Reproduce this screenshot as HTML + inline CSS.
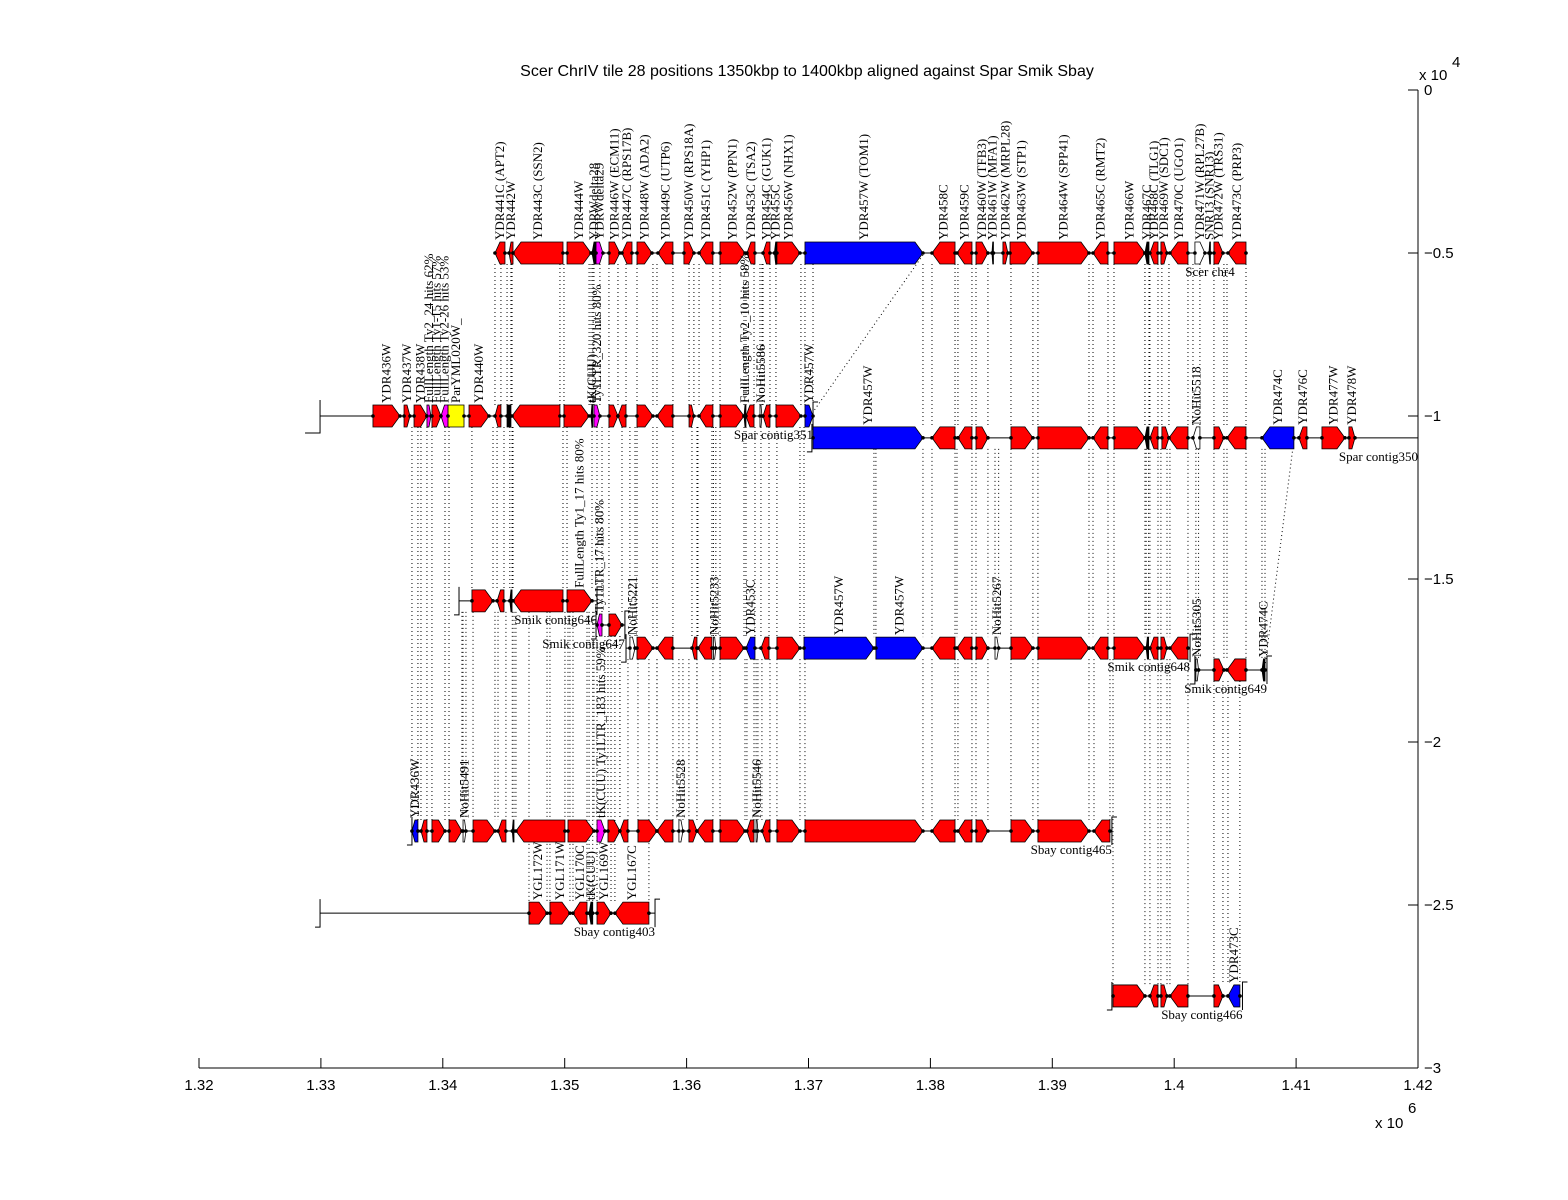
<!DOCTYPE html>
<html><head><meta charset="utf-8">
<style>
html,body{margin:0;padding:0;background:#fff;}
svg{display:block;}
.lab{font-family:"Liberation Serif",serif;font-size:13px;fill:#000;}
.ax{font-family:"Liberation Sans",sans-serif;font-size:15px;fill:#000;}
</style></head>
<body>
<svg id="chart" width="1568" height="1200" viewBox="0 0 1568 1200" xmlns="http://www.w3.org/2000/svg">
<rect width="1568" height="1200" fill="#fff"/>
<text x="807" y="76" text-anchor="middle" style="font-family:'Liberation Sans',sans-serif;font-size:16px">Scer ChrIV tile 28 positions 1350kbp to 1400kbp aligned against Spar Smik Sbay</text>
<g id="dots"></g>
<g id="tracks"></g>
<g id="axes"></g>
</svg>
<script>
// axis ticks
const xTicks = [1.32,1.33,1.34,1.35,1.36,1.37,1.38,1.39,1.40,1.41,1.42];
const xTickLabels = ["1.32","1.33","1.34","1.35","1.36","1.37","1.38","1.39","1.4","1.41","1.42"];
const yTicks = [0,-0.5,-1,-1.5,-2,-2.5,-3];
const yTickLabels = ["0","\u22120.5","\u22121","\u22121.5","\u22122","\u22122.5","\u22123"];

// tracks: names, y level (x1e4), line span (kbp)
const trackNames = ["Scer chr4","Spar contig351","Spar contig350","Smik contig646","Smik contig647","Smik contig648","Smik contig649","Sbay contig465","Sbay contig403","Sbay contig466"];
const trackSpecies = [0,1,1,2,2,2,2,3,3,3];
const trackLevels = [-0.5,-1.0,-1.067,-1.567,-1.641,-1.712,-1.779,-2.273,-2.525,-2.779];
const trackLineStart = [1344.28,1329.93,1370.28,1341.33,1352.57,1355.03,1401.70,1337.47,1329.93,1394.89];
const trackLineEnd = [1405.95,1370.37,1420.0,1352.65,1354.94,1401.30,1407.61,1394.89,1357.41,1405.60];

// genes per track: starts, ends (kbp), strand (W/C/R), colour code, label
const geneStarts = [
 [1344.28,1345.43,1345.76,1350.19,1352.24,1352.57,1353.63,1354.70,1355.93,1357.65,1359.78,1361.02,1362.74,1364.95,1366.27,1367.20,1367.41,1369.71,1380.13,1382.18,1383.74,1385.05,1385.95,1386.53,1388.82,1393.34,1395.06,1397.60,1398.01,1398.91,1399.65,1401.70,1402.85,1403.26,1404.41],
 [1334.27,1336.82,1337.64,1338.70,1339.11,1339.85,1340.43,1342.15,1344.28,1345.27,1345.68,1349.94,1352.16,1352.40,1353.63,1354.37,1355.93,1357.57,1360.20,1361.02,1362.74,1364.71,1364.87,1366.02,1366.27,1367.33,1369.71],
 [1370.37,1380.13,1382.26,1383.74,1386.61,1388.82,1393.34,1395.06,1397.60,1398.01,1398.99,1399.57,1401.54,1403.26,1404.33,1407.20,1410.23,1412.12,1414.33],
 [1342.39,1344.45,1345.50,1345.76,1350.19],
 [1352.65,1353.63],
 [1355.35,1355.93,1357.57,1360.44,1360.93,1362.20,1362.74,1364.87,1366.10,1367.41,1369.63,1375.53,1380.13,1382.18,1383.74,1385.30,1386.61,1388.82,1393.34,1395.06,1397.70,1398.01,1398.91,1399.65],
 [1401.78,1403.26,1404.33,1407.20],
 [1337.47,1338.21,1339.11,1340.51,1341.66,1342.48,1344.53,1345.70,1346.00,1350.27,1352.65,1353.55,1354.53,1356.01,1357.57,1359.37,1360.19,1360.85,1362.74,1364.95,1365.70,1366.18,1367.41,1369.71,1380.13,1382.26,1383.74,1386.61,1388.82,1393.42],
 [1347.07,1348.79,1350.68,1352.00,1352.65,1354.12],
 [1394.98,1398.01,1398.91,1399.65,1403.26,1404.41]
];
const geneEnds = [
 [1345.10,1345.76,1349.86,1352.16,1352.57,1353.14,1354.53,1355.52,1357.16,1358.88,1360.60,1362.16,1364.79,1365.61,1366.84,1367.41,1369.30,1379.39,1382.02,1383.41,1384.72,1385.13,1386.36,1388.41,1393.01,1394.57,1397.60,1397.93,1398.67,1399.41,1401.13,1402.52,1402.93,1404.00,1405.89],
 [1336.49,1337.31,1338.70,1339.03,1339.85,1340.43,1341.74,1343.79,1344.77,1345.59,1349.61,1352.00,1352.30,1352.89,1354.37,1355.03,1357.24,1358.88,1360.60,1362.16,1364.71,1364.87,1365.53,1366.18,1366.84,1369.38,1370.37],
 [1379.39,1382.02,1383.41,1384.72,1388.41,1393.01,1394.57,1397.60,1397.93,1398.67,1399.57,1401.13,1402.11,1404.08,1405.89,1409.82,1410.89,1414.01,1414.83],
 [1344.12,1345.02,1345.68,1349.86,1352.24],
 [1353.06,1354.70],
 [1355.77,1357.24,1358.88,1360.85,1362.08,1362.40,1364.71,1365.61,1366.76,1369.30,1375.37,1379.39,1382.02,1383.41,1384.72,1385.60,1388.41,1393.01,1394.57,1397.60,1397.90,1398.67,1399.41,1401.13],
 [1402.00,1404.08,1405.89,1407.45],
 [1337.96,1338.70,1340.18,1341.57,1341.90,1344.28,1345.18,1345.84,1350.02,1352.40,1353.30,1354.53,1355.19,1357.57,1358.88,1359.70,1360.85,1362.16,1364.79,1365.53,1365.85,1366.84,1369.30,1379.39,1382.02,1383.41,1384.72,1388.41,1393.01,1394.73],
 [1348.55,1350.43,1351.83,1352.30,1353.80,1356.91],
 [1397.60,1398.67,1399.41,1401.13,1404.00,1405.39]
];
const geneStrands = [
 "CCCWCWWCWCWCWCCCWWCCWCWWWCWCCWCWCWC",
 "WWWWWCRWCRCWCWWCWCWCWCCWCWW",
 "WCCWWWCWCCWCCWCCCWW",
 "WCCCW",
 "CW",
 "WWCCCWWCCWWWCCWWWWCWCCWC",
 "WWCC",
 "CCWWWWCCCWWWCWCWWCWCWCWWCCWWWC",
 "WWCCWC",
 "WCWCWC"
];
const geneColors = [
 "rrrrkmrrrrrrrrrkrbrrrkrrrrrkrrrwkrr",
 "rrrmrmyrrkrrkmrrrrrrrkrwrrb",
 "brrrrrrrkrrrwrrbrrr",
 "rrkrr",
 "mr",
 "wrrrrwrbrrbbrrrwrrrrkrrr",
 "wrrk",
 "brrrwrrkrrmrrrrwrrrrwrrrrrrrrr",
 "rrrkrr",
 "rrrrrb"
];
const geneLabels = [
 ["YDR441C (APT2)","YDR442W","YDR443C (SSN2)","YDR444W","YDRWdelta28","YDRWdelta29","YDR446W (ECM11)","YDR447C (RPS17B)","YDR448W (ADA2)","YDR449C (UTP6)","YDR450W (RPS18A)","YDR451C (YHP1)","YDR452W (PPN1)","YDR453C (TSA2)","YDR454C (GUK1)","YDR455C","YDR456W (NHX1)","YDR457W (TOM1)","YDR458C","YDR459C","YDR460W (TFB3)","YDR461W (MFA1)","YDR462W (MRPL28)","YDR463W (STP1)","YDR464W (SPP41)","YDR465C (RMT2)","YDR466W","YDR467C","YDR468C (TLG1)","YDR469W (SDC1)","YDR470C (UGO1)","YDR471W (RPL27B)","SNR13 (SNR13)","YDR472W (TRS31)","YDR473C (PRP3)"],
 ["YDR436W","YDR437W","YDR438W","FullLength Ty2_24 hits 62%","FullLength Ty1-15 hits 57%","FullLength Ty2-26 hits 53%","ParYML020W_","YDR440W","","","","","tK(CUU)","Ty1LTR_320 hits 80%","","","","","","","","FullLength Ty2_10 hits 58%","","NoHit5586","","","YDR457W"],
 ["YDR457W","","","","","","","","","","","","NoHit5518","","","YDR474C","YDR476C","YDR477W","YDR478W"],
 ["","","","","FullLength Ty1_17 hits 80%"],
 ["Ty1LTR_17 hits 80%",""],
 ["NoHit5221","","","","","NoHit5233","","YDR453C","","","YDR457W","YDR457W","","","","NoHit5267","","","","","","","",""],
 ["NoHit5305","","","YDR474C"],
 ["YDR436W","","","","NoHit5491","","","","","","tK(CUU) Ty1LTR_183 hits 59%","","","","","NoHit5528","","","","","NoHit5546","","","","","","","","",""],
 ["YGL172W","YGL171W","YGL170C","tK(CUU)","YGL169W","YGL167C"],
 ["","","","","","YDR473C"]
];
const colorMap = {r:"#ff0000",b:"#0000ff",m:"#ff00ff",y:"#ffff00",w:"#ffffff",k:"#000000"};

const NS = "http://www.w3.org/2000/svg";
function X(kbp){ return 199 + (kbp - 1320) * 12.19; }
function Y(v){ return 90 - v * 326; }
function mk(tag, attrs, parent){
  const e = document.createElementNS(NS, tag);
  for (const k in attrs) e.setAttribute(k, attrs[k]);
  parent.appendChild(e);
  return e;
}
const dots = document.getElementById('dots');
const tracks = document.getElementById('tracks');
const axes = document.getElementById('axes');

// dotted alignment lines
for (let t = 1; t < trackNames.length; t++) {
  const yTop = Y(trackLevels[t]) - 11;
  const xs = [];
  geneStarts[t].forEach((s, i) => { xs.push(s); xs.push(geneEnds[t][i]); });
  xs.forEach(v => {
    let parentY = null, parentSpecies = -1;
    for (let p = t - 1; p >= 0; p--) {
      if (trackSpecies[p] >= trackSpecies[t]) continue;
      if (v >= trackLineStart[p] && v <= trackLineEnd[p]) {
        if (parentY === null || trackSpecies[p] > parentSpecies) { parentY = Y(trackLevels[p]) + 11; parentSpecies = trackSpecies[p]; }
      }
    }
    if (parentY === null || parentY >= yTop) return;
    const ln = mk('line', {x1:X(v), x2:X(v), y1:parentY, y2:yTop, stroke:'#000', 'stroke-width':1, 'stroke-dasharray':'1,3'}, dots);
    
    
  });
}
// diagonal links
const diagFromKbp = [1379.39, 1409.82];
const diagFromTrack = [0, 2];
const diagToKbp = [1370.37, 1407.45];
const diagToTrack = [1, 6];
diagFromKbp.forEach((v, i) => {
  const d = mk('line', {x1:X(v), y1:Y(trackLevels[diagFromTrack[i]]) + 2, x2:X(diagToKbp[i]), y2:Y(trackLevels[diagToTrack[i]]) - 4, stroke:'#000', 'stroke-width':1, 'stroke-dasharray':'1,3'}, dots);
  
  
});

// tracks
for (let t = 0; t < trackNames.length; t++) {
  const g = mk('g', {}, tracks);
  
  
  const y = Y(trackLevels[t]);
  const x0 = X(trackLineStart[t]), x1 = X(trackLineEnd[t]);
  mk('line', {x1:x0, x2:Math.min(x1, 1418), y1:y, y2:y, stroke:'#000', 'stroke-width':1}, g);
  if (t > 0) {
    const big = (t === 1);
    mk('path', {d:`M${x0 - (big ? 15 : 5)},${y + (big ? 17 : 14)} H${x0} V${y - (big ? 16 : 14)}`, fill:'none', stroke:'#000', 'stroke-width':1}, g);
    if (X(trackLineEnd[t]) < 1416) {
      mk('path', {d:`M${x1 + 5},${y - 14} H${x1} V${y + 14}`, fill:'none', stroke:'#000', 'stroke-width':1}, g);
    }
  }
  geneStarts[t].forEach((s, i) => {
    const e = geneEnds[t][i];
    const a = X(s), b = X(e);
    const w = Math.max(b - a, 1.5);
    const st = geneStrands[t][i];
    const h = Math.min(8, w * 0.5);
    let pts;
    if (st === 'W') pts = `${a},${y-11} ${a+w-h},${y-11} ${a+w},${y} ${a+w-h},${y+11} ${a},${y+11}`;
    else if (st === 'C') pts = `${a+h},${y-11} ${a+w},${y-11} ${a+w},${y+11} ${a+h},${y+11} ${a},${y}`;
    else pts = `${a},${y-11} ${a+w},${y-11} ${a+w},${y+11} ${a},${y+11}`;
    const gene = mk('polygon', {points:pts, fill:colorMap[geneColors[t][i]], stroke:'#000', 'stroke-width':0.8}, g);
    
    
    mk('circle', {cx:a, cy:y, r:1.8, fill:'#000'}, g);
    mk('circle', {cx:a + w, cy:y, r:1.8, fill:'#000'}, g);
    const lbl = geneLabels[t][i];
    if (lbl) {
      const cx = a + w / 2 + 4;
      const tx = mk('text', {x:0, y:0, class:'lab', transform:`translate(${cx},${y - 13}) rotate(-90)`}, g);
      tx.textContent = lbl;
      
      
    }
  });
  const cl = mk('text', {x:(t === 0 ? x1 - 12 : Math.min(x1, 1418)), y:y + 23, class:'lab', 'text-anchor':'end'}, g);
  cl.textContent = trackNames[t];
  
  
}

// axes
mk('line', {x1:199, x2:1418, y1:1068, y2:1068, stroke:'#000'}, axes);
mk('line', {x1:1418, x2:1418, y1:90, y2:1068, stroke:'#000'}, axes);
xTicks.forEach((v, i) => {
  const x = X(v * 1000);
  mk('line', {x1:x, x2:x, y1:1068, y2:1058, stroke:'#000'}, axes);
  const tx = mk('text', {x:x, y:1090, class:'ax', 'text-anchor':'middle'}, axes);
  tx.textContent = xTickLabels[i];
  
  
});
yTicks.forEach((v, i) => {
  const y = Y(v);
  mk('line', {x1:1418, x2:1408, y1:y, y2:y, stroke:'#000'}, axes);
  const tx = mk('text', {x:1424, y:y + 5, class:'ax'}, axes);
  tx.textContent = yTickLabels[i];
  
  
});
const ye = mk('text', {x:1419, y:80, class:'ax'}, axes);
ye.textContent = 'x 10';


const ye2 = mk('text', {x:1452, y:67, class:'ax', 'font-size':'12'}, axes);
ye2.textContent = '4';


const xe = mk('text', {x:1375, y:1128, class:'ax'}, axes);
xe.textContent = 'x 10';


const xe2 = mk('text', {x:1408, y:1113, class:'ax', 'font-size':'12'}, axes);
xe2.textContent = '6';


</script>
</body></html>
